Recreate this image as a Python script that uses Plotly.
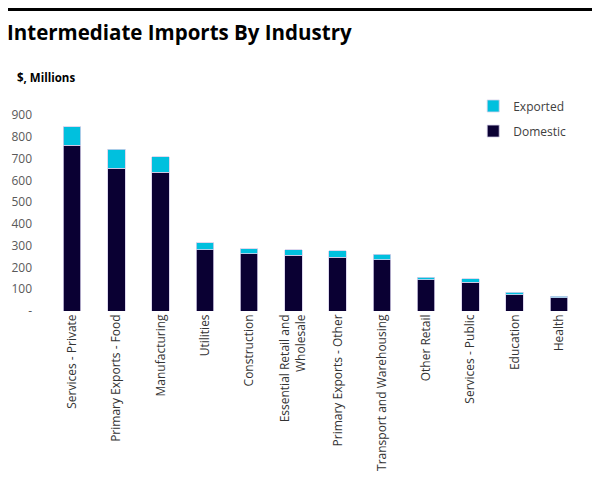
import plotly.graph_objects as go

# industries, ordered as in the chart
industries = [
    "Services - Private", "Primary Exports - Food", "Manufacturing", "Utilities",
    "Construction", "Essential Retail and<br>Wholesale", "Primary Exports - Other",
    "Transport and Warehousing", "Other Retail", "Services - Public", "Education", "Health",
]
# $ millions
domestic = [762, 655, 638, 282, 264, 255, 246, 236, 144, 132, 75, 62]
exported = [84, 87, 70, 31, 23, 27, 30, 25, 10, 15, 10, 6]

y_ticks = [0, 100, 200, 300, 400, 500, 600, 700, 800, 900]
y_tick_text = ["-"] + [str(v) for v in y_ticks[1:]]

font = "Open Sans"
dark = "#0a0033"
cyan = "#00c0de"
edge = "#d6d0ea"

fig = go.Figure()
fig.add_trace(go.Bar(x=industries, y=domestic, name="Domestic",
                     marker=dict(color=dark, line=dict(color=edge, width=0.8)),
                     legend="legend2"))
fig.add_trace(go.Bar(x=industries, y=exported, name="Exported",
                     marker=dict(color=cyan, line=dict(color=edge, width=0.8)),
                     legend="legend"))

# the page puts the figure 8px in from the top-left corner, margins allow for it
fig.update_layout(
    width=600, height=504,
    margin=dict(l=42, r=27, t=107, b=201, autoexpand=False),
    paper_bgcolor="white", plot_bgcolor="white",
    barmode="stack", bargap=0.6,
    font=dict(family=font, size=12, color="#404040"),
    showlegend=True,
    legend=dict(x=0.797, y=1.046, xanchor="left", yanchor="middle",
                font=dict(size=12, color="#404040"), bgcolor="rgba(0,0,0,0)"),
    legend2=dict(x=0.797, y=0.918, xanchor="left", yanchor="middle",
                 font=dict(size=12, color="#404040"), bgcolor="rgba(0,0,0,0)"),
    annotations=[
        dict(text="<b>Intermediate Imports By Industry</b>", xref="paper", yref="paper",
             x=-0.0847, y=1.423, xanchor="left", yanchor="middle", showarrow=False,
             font=dict(family=font, size=20.5, color="black")),
        dict(text="<b>$, Millions</b>", xref="paper", yref="paper",
             x=-0.066, y=1.189, xanchor="left", yanchor="middle", showarrow=False,
             font=dict(family=font, size=11.5, color="black")),
    ],
    shapes=[
        dict(type="line", xref="paper", yref="paper", x0=-0.2, x1=1.032, y0=1.538, y1=1.538,
             line=dict(color="black", width=3)),
        dict(type="line", xref="paper", yref="paper", x0=1.030, x1=1.030, y0=1.546, y1=-1.2,
             line=dict(color="black", width=3)),
    ],
)
fig.update_xaxes(tickangle=-90, showgrid=False, showline=False, ticks="",
                 tickfont=dict(size=12, color="#333333"))
fig.update_yaxes(range=[0, 900], tickvals=y_ticks, ticktext=y_tick_text,
                 showgrid=False, showline=False, zeroline=False, ticks="",
                 ticklabelstandoff=17, tickfont=dict(size=12, color="#595959"))

fig.write_html("out.html")
